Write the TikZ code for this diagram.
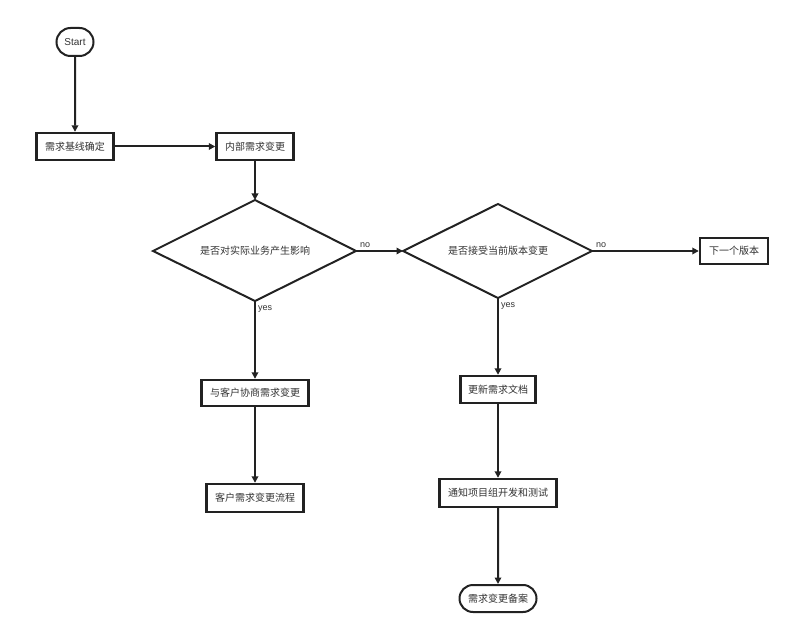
\documentclass[tikz,border=0pt]{standalone}
\usepackage{fontspec}
\setmainfont{Liberation Sans}
\newfontfamily\cjk{Noto Sans CJK SC}
\usetikzlibrary{shapes.misc,arrows.meta}
\definecolor{ln}{HTML}{222222}
\definecolor{tx}{HTML}{333333}
\tikzset{
  procbox/.style={draw=ln,line width=2.4pt,fill=white,inner sep=0pt,font=\cjk\fontsize{10}{12}\selectfont,text=tx},
  term/.style={draw=ln,line width=2pt,fill=white,rounded rectangle,inner sep=0pt,font=\fontsize{10}{12}\selectfont,text=tx},
  decline/.style={draw=ln,line width=2pt,line join=miter},
  dtext/.style={font=\cjk\fontsize{10}{12}\selectfont,text=tx,inner sep=0pt},
  flow/.style={draw=ln,line width=2pt,-{Triangle[length=6.5pt,width=6.5pt]}},
  lbl/.style={font=\fontsize{9}{10}\selectfont,text=tx,inner sep=0pt}
}
\begin{document}
\begin{tikzpicture}[x=1pt,y=-1pt]
\useasboundingbox (0,0) rectangle (787,636);
\node[term,minimum width=37pt,minimum height=28pt] (start) at (75,42) {Start};
\node[procbox,minimum width=77pt,minimum height=27pt] (base) at (75,146.5) {需求基线确定};
\node[procbox,minimum width=77pt,minimum height=27pt] (inner) at (255,146.5) {内部需求变更};
% decision 1
\coordinate (d1n) at (255,200);
\coordinate (d1s) at (255,301);
\coordinate (d1w) at (153,251);
\coordinate (d1e) at (356,251);
\draw[decline] (d1n) -- (d1e) -- (d1s) -- (d1w) -- cycle;
\node[dtext] (d1) at (255,251) {是否对实际业务产生影响};
% decision 2
\coordinate (d2n) at (498,204);
\coordinate (d2s) at (498,298);
\coordinate (d2w) at (403,251);
\coordinate (d2e) at (592,251);
\draw[decline] (d2n) -- (d2e) -- (d2s) -- (d2w) -- cycle;
\node[dtext] (d2) at (498,251) {是否接受当前版本变更};
\node[procbox,minimum width=68pt,minimum height=26pt] (next) at (734,251) {下一个版本};
\node[procbox,minimum width=107pt,minimum height=26pt] (nego) at (255,393) {与客户协商需求变更};
\node[procbox,minimum width=97pt,minimum height=28pt] (cust) at (255,498) {客户需求变更流程};
\node[procbox,minimum width=75pt,minimum height=27pt] (doc) at (498,389.5) {更新需求文档};
\node[procbox,minimum width=117pt,minimum height=28pt] (notify) at (498,493) {通知项目组开发和测试};
\node[term,font=\cjk\fontsize{10}{12}\selectfont,minimum width=77pt,minimum height=27pt] (rec) at (498,598.5) {需求变更备案};

\draw[flow] (start) -- (base);
\draw[flow] (base) -- (inner);
\draw[flow] (inner) -- (d1n);
\draw[flow] (d1e) -- (d2w);
\node[lbl,anchor=south west] at ([xshift=4pt,yshift=3pt]d1e) {no};
\draw[flow] (d2e) -- (next);
\node[lbl,anchor=south west] at ([xshift=4pt,yshift=3pt]d2e) {no};
\draw[flow] (d1s) -- (nego);
\node[lbl,anchor=north west] at ([xshift=3pt,yshift=-4pt]d1s) {yes};
\draw[flow] (d2s) -- (doc);
\node[lbl,anchor=north west] at ([xshift=3pt,yshift=-4pt]d2s) {yes};
\draw[flow] (nego) -- (cust);
\draw[flow] (doc) -- (notify);
\draw[flow] (notify) -- (rec);
\end{tikzpicture}
\end{document}
